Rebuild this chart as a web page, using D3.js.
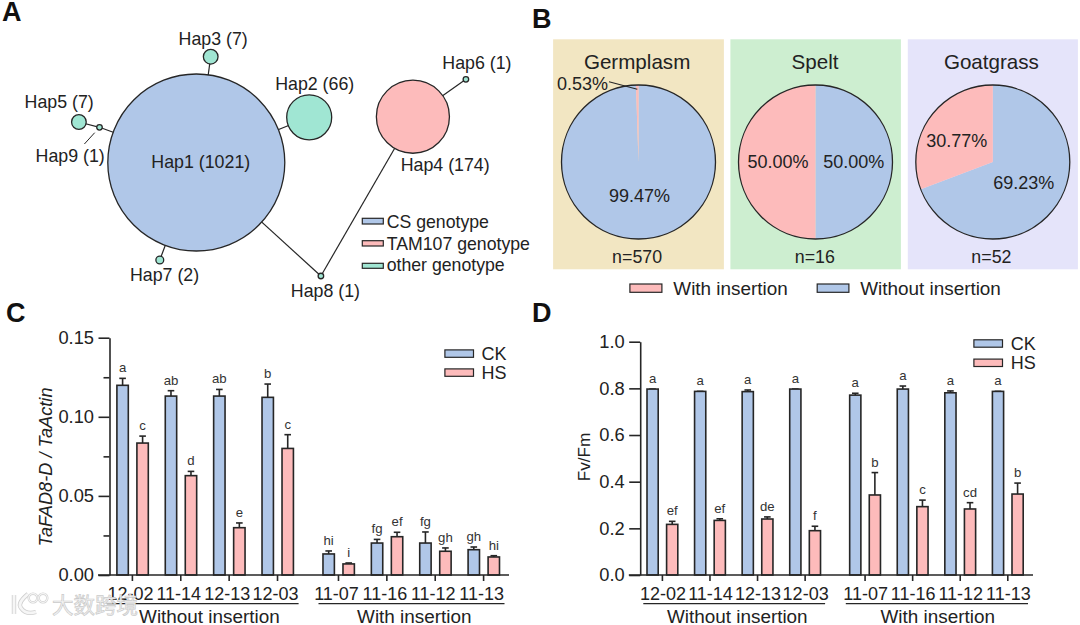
<!DOCTYPE html>
<html>
<head>
<meta charset="utf-8">
<script src="https://cdn.jsdelivr.net/npm/d3@7/dist/d3.min.js"></script>
<style>
html,body{margin:0;padding:0;background:#fff}
svg{display:block}
text{font-family:"Liberation Sans",Arial,sans-serif;fill:#222}
</style>
</head>
<body>
<svg id="chart" width="1080" height="625"></svg>
<script>
// ---------- Panel A data ----------
const hapNames = ["Hap1","Hap2","Hap3","Hap4","Hap5","Hap6","Hap7","Hap8","Hap9"];
const hapCounts = [1021,66,7,174,7,1,2,1,1];
const hapGenotype = ["CS","other","other","TAM107","other","other","other","other","other"];
const hapLinks = [["Hap1","Hap2"],["Hap1","Hap3"],["Hap1","Hap9"],["Hap9","Hap5"],["Hap1","Hap7"],["Hap1","Hap8"],["Hap8","Hap4"],["Hap4","Hap6"]];
const genotypeLegend = ["CS genotype","TAM107 genotype","other genotype"];
// ---------- Panel B data ----------
const pieTitles = ["Germplasm","Spelt","Goatgrass"];
const pieN = ["n=570","n=16","n=52"];
const withoutInsertion = [99.47,50.00,69.23];
const withInsertion = [0.53,50.00,30.77];
const pieLegend = ["With insertion","Without insertion"];
// ---------- Panels C, D data ----------
const strains = ["12-02","11-14","12-13","12-03","11-07","11-16","11-12","11-13"];
const groupNames = ["Without insertion","With insertion"];
const exprCK = [0.1199,0.1131,0.1131,0.1123,0.0133,0.0202,0.0202,0.0160];
const exprCKTop = [0.1243,0.1165,0.1173,0.1207,0.0152,0.0225,0.0272,0.0177];
const exprHS = [0.0834,0.0628,0.0299,0.0800,0.0070,0.0242,0.0150,0.0114];
const exprHSTop = [0.0878,0.0655,0.0329,0.0887,0.0076,0.0270,0.0171,0.0122];
const exprCKLetters = ["a","ab","ab","b","hi","fg","fg","gh"];
const exprHSLetters = ["c","d","e","c","i","ef","gh","hi"];
const exprTicks = [0,0.05,0.10,0.15];
const exprMinor = [0.025,0.075,0.125];
const fvCK = [0.797,0.787,0.786,0.797,0.771,0.797,0.781,0.787];
const fvCKTop = [0.797,0.787,0.793,0.797,0.779,0.810,0.789,0.787];
const fvHS = [0.217,0.234,0.240,0.190,0.343,0.293,0.283,0.347];
const fvHSTop = [0.230,0.241,0.249,0.209,0.439,0.321,0.310,0.394];
const fvCKLetters = ["a","a","a","a","a","a","a","a"];
const fvHSLetters = ["ef","ef","de","f","b","c","cd","b"];
const fvTicks = [0,0.2,0.4,0.6,0.8,1.0];

// ---------- styles ----------
const BLUE="#b0c7e8", PINK="#fdbbbb", TEAL="#a0e6d3", INK="#262626";
const svg = d3.select("#chart");
function label(g,x,y,t,size,anchor){
  return g.append("text").attr("x",x).attr("y",y).attr("dy",".35em")
    .attr("font-size",size).attr("text-anchor",anchor||"middle").text(t);
}
function swatch(g,x0,x1,y0,y1,fill){
  g.append("rect").attr("x",x0).attr("y",y0).attr("width",x1-x0).attr("height",y1-y0)
   .attr("fill",fill).attr("stroke",INK).attr("stroke-width",1.2);
}
// Panel letters
[["A",2,21],["B",532,28],["C",6,322],["D",532,322]].forEach(d=>{
  svg.append("text").attr("x",d[1]).attr("y",d[2]).attr("font-size",27).attr("font-weight",700).style("fill","#111").text(d[0]);
});

// ---------- Panel A ----------
(function(){
  const g=svg.append("g");
  const r=d3.scaleSqrt().domain([0,1021]).range([0,88.5]);
  const color=d3.scaleOrdinal().domain(["CS","TAM107","other"]).range([BLUE,PINK,TEAL]);
  // network layout (node centres, page units)
  const layoutX={Hap1:196.3,Hap2:309.2,Hap3:210.7,Hap4:412.9,Hap5:78.9,Hap6:465.9,Hap7:159.8,Hap8:320.9,Hap9:99.5};
  const layoutY={Hap1:162.5,Hap2:117.3,Hap3:56.7,Hap4:116.7,Hap5:122,Hap6:79.3,Hap7:260,Hap8:276,Hap9:127.3};
  const labelX={Hap1:200.8,Hap2:314.7,Hap3:213.2,Hap4:445.2,Hap5:59.2,Hap6:476.9,Hap7:164.6,Hap8:325.4,Hap9:70.2};
  const labelY={Hap1:162,Hap2:84,Hap3:39,Hap4:165,Hap5:101.7,Hap6:62.7,Hap7:274.7,Hap8:290.3,Hap9:155.3};
  g.selectAll("line.l").data(hapLinks).join("line").attr("class","l")
    .attr("x1",d=>layoutX[d[0]]).attr("y1",d=>layoutY[d[0]])
    .attr("x2",d=>layoutX[d[1]]).attr("y2",d=>layoutY[d[1]])
    .attr("stroke",INK).attr("stroke-width",1.2);
  g.selectAll("circle").data(hapNames).join("circle")
    .attr("cx",d=>layoutX[d]).attr("cy",d=>layoutY[d])
    .attr("r",(d,i)=>r(hapCounts[i]))
    .attr("fill",(d,i)=>color(hapGenotype[i]))
    .attr("stroke",INK).attr("stroke-width",1.3);
  g.append("line").attr("x1",94.7).attr("y1",132.7).attr("x2",84.4).attr("y2",144)
    .attr("stroke",INK).attr("stroke-width",1);
  hapNames.forEach((n,i)=>label(g,labelX[n],labelY[n],`${n} (${hapCounts[i]})`,17.8));
  const lg=[[218.3,224,222.3,BLUE],[240.7,246,244.3,PINK],[263.3,268.3,265,TEAL]];
  genotypeLegend.forEach((t,i)=>{
    swatch(g,362.3,383.3,lg[i][0],lg[i][1],lg[i][3]);
    label(g,386.7,lg[i][2],t,17.7,"start");
  });
})();

// ---------- Panel B ----------
(function(){
  const g=svg.append("g");
  const panels=[[553.1,723.9,"#f2e6c2"],[730.4,900.9,"#cdeed0"],[907.8,1077.9,"#e5e4fa"]];
  const cx=[638.5,815.5,992.8], cy=162, R=77;
  const titleX=[637.1,815.1,991.4], nX=[637.1,814.8,991.4];
  const arc=d3.arc().innerRadius(0).outerRadius(R);
  const pie=d3.pie().sort(null).value(d=>d.v);
  pieTitles.forEach((t,i)=>{
    g.append("rect").attr("x",panels[i][0]).attr("y",39.3).attr("width",panels[i][1]-panels[i][0]).attr("height",230).attr("fill",panels[i][2]);
    const p=g.append("g").attr("transform",`translate(${cx[i]},${cy})`);
    p.selectAll("path").data(pie([{v:withoutInsertion[i],c:BLUE},{v:withInsertion[i],c:PINK}])).join("path")
      .attr("d",arc).attr("fill",d=>d.data.c);
    p.append("circle").attr("r",R).attr("fill","none").attr("stroke",INK).attr("stroke-width",1.3);
    label(g,titleX[i],62,t,20.6);
    label(g,nX[i],257,pieN[i],17.8);
  });
  const fmt=v=>v.toFixed(2)+"%";
  label(g,639.5,195.7,fmt(withoutInsertion[0]),18);
  label(g,582.4,84,fmt(withInsertion[0]),18);
  g.append("line").attr("x1",609).attr("y1",81.7).attr("x2",637.3).attr("y2",89.3).attr("stroke",INK).attr("stroke-width",1.1);
  label(g,778,161.3,fmt(withInsertion[1]),18);
  label(g,853.7,161.3,fmt(withoutInsertion[1]),18);
  label(g,956.7,140.7,fmt(withInsertion[2]),18);
  label(g,1023.8,183,fmt(withoutInsertion[2]),18);
  swatch(g,629.9,661.9,284,292.3,PINK);
  label(g,673.3,288.3,pieLegend[0],18.9,"start");
  swatch(g,817.2,848.9,284,292.3,BLUE);
  label(g,860.2,288.3,pieLegend[1],18.9,"start");
})();

// ---------- Panels C, D ----------
const slots=[0,1,2,3,4.26,5.26,6.26,7.26];
function barPanel(c){
  const g=svg.append("g");
  const SW=1.6;
  const x=d3.scaleLinear().domain([0,slots[7]]).range([c.x0,c.x1]);
  const y=d3.scaleLinear().domain([0,c.max]).range([575,c.top]);
  const ay=g.append("g").attr("transform",`translate(${c.axisX},0)`)
    .call(d3.axisLeft(y).tickValues(c.ticks).tickSize(11).tickSizeOuter(0).tickPadding(4.5).tickFormat(d3.format(c.fmt)));
  ay.selectAll("text").attr("font-size",18.3).attr("font-family",null).style("fill","#222");
  ay.selectAll("line,path").attr("stroke",INK).attr("stroke-width",SW);
  if(c.minor){
    const am=g.append("g").attr("transform",`translate(${c.axisX},0)`)
      .call(d3.axisLeft(y).tickValues(c.minor).tickSize(6).tickFormat(""));
    am.selectAll("line").attr("stroke",INK).attr("stroke-width",SW);
    am.select("path").remove();
  }
  const series=[
    {v:c.ck,top:c.ckTop,let:c.ckL,fill:BLUE,off:c.offCK},
    {v:c.hs,top:c.hsTop,let:c.hsL,fill:PINK,off:c.offHS}];
  series.forEach(s=>{
    strains.forEach((st,i)=>{
      const bx=x(slots[i])+s.off;
      const hw=c.bw/2;
      g.append("line").attr("x1",bx).attr("x2",bx).attr("y1",y(s.v[i])).attr("y2",y(s.top[i])).attr("stroke",INK).attr("stroke-width",SW);
      g.append("line").attr("x1",bx-3.3).attr("x2",bx+3.3).attr("y1",y(s.top[i])).attr("y2",y(s.top[i])).attr("stroke",INK).attr("stroke-width",SW);
      g.append("rect").attr("x",bx-hw).attr("y",y(s.v[i])).attr("width",c.bw).attr("height",y(0)-y(s.v[i]))
        .attr("fill",s.fill).attr("stroke",INK).attr("stroke-width",SW);
      g.append("text").attr("x",bx).attr("y",y(s.top[i])-6).attr("text-anchor","middle").attr("font-size",13.2).style("fill","#333").text(s.let[i]);
    });
  });
  const ax=g.append("g").attr("transform","translate(0,575)")
    .call(d3.axisBottom(x).tickValues(slots).tickSize(6).tickPadding(6).tickFormat((d,i)=>strains[i]));
  ax.select("path").remove();
  ax.selectAll("line").attr("stroke",INK).attr("stroke-width",SW);
  ax.selectAll("text").attr("font-size",18).attr("dx",c.labelDx).style("fill","#222");
  g.append("line").attr("x1",c.lineStart).attr("x2",c.lineEnd).attr("y1",y(0)).attr("y2",y(0)).attr("stroke",INK).attr("stroke-width",SW);
  c.groups.forEach((gr,i)=>{
    g.append("line").attr("x1",gr[0]).attr("x2",gr[1]).attr("y1",603.7).attr("y2",603.7).attr("stroke",INK).attr("stroke-width",1.2);
    label(g,gr[2],616.7,groupNames[i],18.9);
  });
  swatch(g,c.legX0,c.legX1,c.legY[0]-3.7,c.legY[0]+3.7,BLUE);
  swatch(g,c.legX0,c.legX1,c.legY[1]-3.7,c.legY[1]+3.7,PINK);
  label(g,c.legT,c.legY[0],"CK",18,"start");
  label(g,c.legT,c.legY[1],"HS",18,"start");
  const yt=g.append("text").attr("transform",`translate(${c.titleX},${c.titleY}) rotate(-90)`)
    .attr("text-anchor","middle").attr("dy",".35em").attr("font-size",c.titleSize).text(c.title);
  if(c.italic) yt.attr("font-style","italic");
}
barPanel({x0:131.9,x1:483.1,top:337.7,max:0.15,axisX:109.5,ticks:exprTicks,minor:exprMinor,fmt:".2f",
  ck:exprCK,ckTop:exprCKTop,ckL:exprCKLetters,hs:exprHS,hsTop:exprHSTop,hsL:exprHSLetters,
  offCK:-9.3,offHS:10.7,bw:11.4,labelDx:-2,lineStart:98,lineEnd:509,
  groups:[[106.7,298.6,209.4],[318.5,504.5,414.3]],
  legX0:444.9,legX1:473.5,legT:481.4,legY:[353.6,372.6],
  title:"TaFAD8-D / TaActin",italic:true,titleX:46,titleY:467,titleSize:18.2});
barPanel({x0:661.9,x1:1007.3,top:341.7,max:1.0,axisX:640.2,ticks:fvTicks,minor:null,fmt:".1f",
  ck:fvCK,ckTop:fvCKTop,ckL:fvCKLetters,hs:fvHS,hsTop:fvHSTop,hsL:fvHSLetters,
  offCK:-9.3,offHS:10.3,bw:11.2,labelDx:0.5,lineStart:628.8,lineEnd:1033,
  groups:[[643.3,825.1,737.3],[845.8,1028,937.7]],
  legX0:973.9,legX1:1002.5,legT:1010.7,legY:[343.5,362.8],
  title:"Fv/Fm",italic:false,titleX:584,titleY:457,titleSize:17.2});

// Pale source mark over the lower-left corner, as in the reference
(function(){
  const m=svg.append("g");
  const shape="M14,595 L14,614 M28,594 Q17,603 21,608 Q26,615 36,612";
  m.append("path").attr("d",shape).attr("fill","none").attr("stroke","#cfcfcf").attr("stroke-width",4.4);
  m.append("path").attr("d",shape).attr("fill","none").attr("stroke","#f6f6f6").attr("stroke-width",2.8);
  [[33,598],[43,598]].forEach(d=>{
    m.append("circle").attr("cx",d[0]).attr("cy",d[1]).attr("r",4.3).attr("fill","none").attr("stroke","#cfcfcf").attr("stroke-width",2.4);
    m.append("circle").attr("cx",d[0]).attr("cy",d[1]).attr("r",4.3).attr("fill","none").attr("stroke","#f6f6f6").attr("stroke-width",1.2);
  });
  m.append("text").attr("x",52).attr("y",613).attr("font-size",21.5)
    .style("font-family",'"Noto Sans CJK SC"').style("fill","#f4f4f4")
    .style("stroke","#cbcbcb").style("stroke-width",0.7).text("大数跨境");
})();
</script>
</body>
</html>
